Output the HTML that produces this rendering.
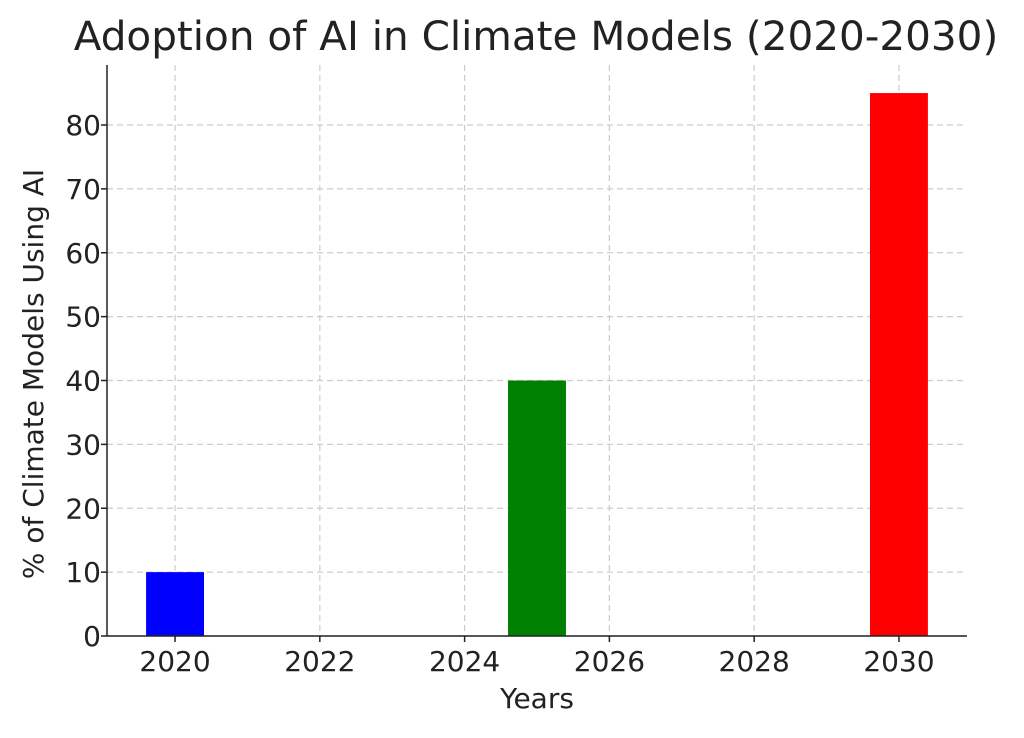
<!DOCTYPE html>
<html><head><meta charset="utf-8"><style>
body{margin:0;background:#fff}
svg text{font-family:"DejaVu Sans","Liberation Sans",sans-serif;fill:#222}
</style></head><body>
<svg id="chart" width="1024" height="733" viewBox="0 0 1024 733">
<text x="536" y="50" text-anchor="middle" font-size="40.5" fill="#333">Adoption of AI in Climate Models (2020-2030)</text>
<g id="grid"></g><g id="bars"></g><g id="axes"></g>
<text x="537" y="708" text-anchor="middle" font-size="28">Years</text>
<text transform="translate(43,374) rotate(-90)" text-anchor="middle" font-size="28">% of Climate Models Using AI</text>
</svg>
<script>
const years=[2020,2025,2030];
const values=[10,40,85];
const colors=['#0000ff','#008000','#ff0000'];
const xTicks=[2020,2022,2024,2026,2028,2030];
const yTicks=[0,10,20,30,40,50,60,70,80];
const L=107,R=967,B=636,T=65;
const xMin=2019.06,xMax=2030.94;
const x=v=>L+(v-xMin)/(xMax-xMin)*(R-L);
const y=v=>B-v*6.3875;
const ns='http://www.w3.org/2000/svg';
function mk(t,a,p){const e=document.createElementNS(ns,t);for(const k in a)e.setAttribute(k,a[k]);p.appendChild(e);return e;}
const g=document.getElementById('grid'),b=document.getElementById('bars'),ax=document.getElementById('axes');
xTicks.forEach(t=>{
const l=mk('line',{x1:x(t),x2:x(t),y1:T,y2:B,stroke:'#ccc','stroke-dasharray':'6,4','stroke-width':1.2},g);


const tk=mk('line',{x1:x(t),x2:x(t),y1:B,y2:B+6,stroke:'#222','stroke-width':1.5},ax);


const tx=mk('text',{x:x(t),y:B+35,'text-anchor':'middle','font-size':28},ax);tx.textContent=t;


});
yTicks.forEach(t=>{
const l=mk('line',{x1:L,x2:R,y1:y(t),y2:y(t),stroke:'#ccc','stroke-dasharray':'6,4','stroke-width':1.2},g);


const tk=mk('line',{x1:L-6,x2:L,y1:y(t),y2:y(t),stroke:'#222','stroke-width':1.5},ax);


const tx=mk('text',{x:L-6,y:y(t)+10,'text-anchor':'end','font-size':28},ax);tx.textContent=t;


});
years.forEach((yr,i)=>{
const r=mk('rect',{x:x(yr-0.4),y:y(values[i]),width:x(yr+0.4)-x(yr-0.4),height:B-y(values[i]),fill:colors[i]},b);


});
const s1=mk('line',{x1:L,x2:L,y1:T,y2:B,stroke:'#222','stroke-width':1.5},ax);


const s2=mk('line',{x1:L,x2:R,y1:B,y2:B,stroke:'#222','stroke-width':1.5},ax);


</script>
</body></html>
